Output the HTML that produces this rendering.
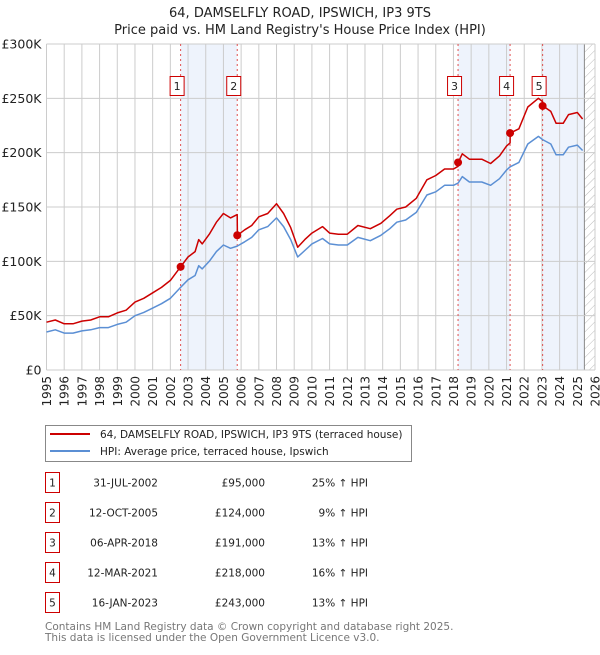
<!DOCTYPE html>
<html><head><meta charset="utf-8"><style>
body{margin:0;background:#fff;font-family:"Liberation Sans","DejaVu Sans",sans-serif;}
svg text{font-family:"DejaVu Sans","Liberation Sans",sans-serif;}
</style></head><body>
<svg id="c" width="600" height="650" xmlns="http://www.w3.org/2000/svg">
<defs><pattern id="hatch" width="6" height="6" patternUnits="userSpaceOnUse" patternTransform="rotate(45)"><line x1="0" y1="0" x2="0" y2="6" stroke="#bbb" stroke-width="1"/></pattern></defs>
<text x="300" y="17" text-anchor="middle" font-size="13" fill="#222">64, DAMSELFLY ROAD, IPSWICH, IP3 9TS</text>
<text x="300" y="34" text-anchor="middle" font-size="13" fill="#222">Price paid vs. HM Land Registry's House Price Index (HPI)</text>
<g id="plot"></g>
<g id="legend">
<rect x="45.5" y="425.5" width="366" height="36" fill="#fff" stroke="#888"/>
<line x1="50" y1="434" x2="90" y2="434" stroke="#cc0000" stroke-width="2"/>
<text x="100" y="438" font-size="10.5" fill="#222">64, DAMSELFLY ROAD, IPSWICH, IP3 9TS (terraced house)</text>
<line x1="50" y1="451" x2="90" y2="451" stroke="#5b8fd4" stroke-width="2"/>
<text x="100" y="455" font-size="10.5" fill="#222">HPI: Average price, terraced house, Ipswich</text>
</g>
<g id="table"></g>
<text x="45" y="630" font-size="10.5" fill="#777">Contains HM Land Registry data © Crown copyright and database right 2025.</text>
<text x="45" y="641" font-size="10.5" fill="#777">This data is licensed under the Open Government Licence v3.0.</text>
</svg>
<script>
const hpiDates=[1995.0,1995.5,1996.0,1996.5,1997.0,1997.5,1998.0,1998.5,1999.0,1999.5,2000.0,2000.5,2001.0,2001.5,2002.0,2002.58,2003.0,2003.4,2003.6,2003.8,2004.2,2004.6,2005.0,2005.4,2005.78,2006.2,2006.6,2007.0,2007.5,2008.0,2008.4,2008.8,2009.2,2009.6,2010.0,2010.6,2011.0,2011.5,2012.0,2012.6,2013.3,2013.9,2014.4,2014.8,2015.3,2015.9,2016.5,2017.0,2017.5,2018.0,2018.26,2018.5,2018.9,2019.6,2020.1,2020.6,2021.0,2021.2,2021.7,2022.2,2022.8,2023.04,2023.5,2023.8,2024.2,2024.5,2025.0,2025.3];
const hpiValues=[35,37,34,34,36,37,39,39,42,44,50,53,57,61,66,76,83,87,96,93,100,109,115,112,114,118,122,129,132,140,132,120,104,110,116,121,116,115,115,122,119,124,130,136,138,145,161,164,170,170,172,178,173,173,170,176,184,187,191,208,215,212,208,198,198,205,207,202];
const priceDates=[1995.0,1995.5,1996.0,1996.5,1997.0,1997.5,1998.0,1998.5,1999.0,1999.5,2000.0,2000.5,2001.0,2001.5,2002.0,2002.58,2003.0,2003.4,2003.6,2003.8,2004.2,2004.6,2005.0,2005.4,2005.78,2005.79,2006.2,2006.6,2007.0,2007.5,2008.0,2008.4,2008.8,2009.2,2009.6,2010.0,2010.6,2011.0,2011.5,2012.0,2012.6,2013.3,2013.9,2014.4,2014.8,2015.3,2015.9,2016.5,2017.0,2017.5,2018.0,2018.26,2018.27,2018.5,2018.9,2019.6,2020.1,2020.6,2021.0,2021.2,2021.21,2021.7,2022.2,2022.8,2023.04,2023.05,2023.5,2023.8,2024.2,2024.5,2025.0,2025.3];
const priceValues=[44,46,42.5,42.5,45,46,49,49,52.5,55,62.5,66,71,76,82.5,95,104,109,120,116,125,136,144,140,143,124,129,133,141,144,153,144,131,113,120,126,132,126,125,125,133,130,135,142,148,150,158,175,179,185,185,187.5,191,199,194,194,190,197,206,209,218,222,242,250,247,243,238,227,227,235,237,231];
const saleDates=[2002.58,2005.78,2018.26,2021.2,2023.04];
const saleValues=[95,124,191,218,243];
const saleLabels=["31-JUL-2002","12-OCT-2005","06-APR-2018","12-MAR-2021","16-JAN-2023"];
const salePrices=["£95,000","£124,000","£191,000","£218,000","£243,000"];
const saleHpi=["25% ↑ HPI","9% ↑ HPI","13% ↑ HPI","16% ↑ HPI","13% ↑ HPI"];
const yTicks=[0,50,100,150,200,250,300];
const yTickLabels=["£0","£50K","£100K","£150K","£200K","£250K","£300K"];
const xYears=[1995,1996,1997,1998,1999,2000,2001,2002,2003,2004,2005,2006,2007,2008,2009,2010,2011,2012,2013,2014,2015,2016,2017,2018,2019,2020,2021,2022,2023,2024,2025,2026];
const dataEnd=2025.4;

const NS="http://www.w3.org/2000/svg";
const X0=46.5,X1=595,Y0=370,Y1=44;
const xs=y=>X0+(y-1995)/(2026-1995)*(X1-X0);
const ys=v=>Y0-v/300*(Y0-Y1);
const plot=document.getElementById('plot');
function mk(tag,attrs,parent){const e=document.createElementNS(NS,tag);for(const k in attrs)e.setAttribute(k,attrs[k]);(parent||plot).appendChild(e);return e;}
[[0,1],[2,3]].forEach(p=>{const r=mk('rect',{x:xs(saleDates[p[0]]),y:Y1,width:xs(saleDates[p[1]])-xs(saleDates[p[0]]),height:Y0-Y1,fill:'#eef3fc'});

});
const r5=mk('rect',{x:xs(saleDates[4]),y:Y1,width:xs(dataEnd)-xs(saleDates[4]),height:Y0-Y1,fill:'#eef3fc'});


const hr=mk('rect',{x:xs(dataEnd),y:Y1,width:X1-xs(dataEnd),height:Y0-Y1,fill:'url(#hatch)'});


mk('line',{x1:xs(dataEnd),x2:xs(dataEnd),y1:Y1,y2:Y0,stroke:'#888','stroke-width':1});
xYears.forEach((yr,i)=>{mk('line',{x1:xs(yr),x2:xs(yr),y1:Y1,y2:Y0,stroke:'#ccc','stroke-width':1});
const t=mk('text',{x:0,y:0,'font-size':12,fill:'#222','text-anchor':'end',transform:`translate(${xs(yr)+4.5},${Y0+6}) rotate(-90)`});t.textContent=yr;

});
yTicks.forEach((v,i)=>{mk('line',{x1:X0,x2:X1,y1:ys(v),y2:ys(v),stroke:'#ccc','stroke-width':1});
const t=mk('text',{x:X0-5,y:ys(v)+4.5,'font-size':12.5,fill:'#222','text-anchor':'end'});t.textContent=yTickLabels[i];

});
saleDates.forEach((d,i)=>{mk('line',{x1:xs(d),x2:xs(d),y1:Y1,y2:Y0,stroke:'#e05050','stroke-width':1,'stroke-dasharray':'2,3'});
const g=mk('g',{});


mk('rect',{x:xs(d)-10.5,y:76.5,width:14,height:19,fill:'#fff',stroke:'#cc0000'},g);
const t=mk('text',{x:xs(d)-3.5,y:90,'font-size':11,'text-anchor':'middle',fill:'#222'},g);t.textContent=i+1;});
function path(dx,dv){return dx.map((d,i)=>(i?'L':'M')+xs(d).toFixed(1)+','+ys(dv[i]).toFixed(1)).join('');}
const hp=mk('path',{d:path(hpiDates,hpiValues),fill:'none',stroke:'#5b8fd4','stroke-width':1.5,'stroke-linejoin':'round'});


const pp=mk('path',{d:path(priceDates,priceValues),fill:'none',stroke:'#cc0000','stroke-width':1.5,'stroke-linejoin':'round'});


saleDates.forEach((d,i)=>{const c=mk('circle',{cx:xs(d),cy:ys(saleValues[i]),r:4,fill:'#cc0000'});

});
const tb=document.getElementById('table');
saleDates.forEach((d,i)=>{const y=483+i*30;
const g=mk('g',{},tb);


mk('rect',{x:45.5,y:y-10.5,width:14,height:20,fill:'#fff',stroke:'#cc0000'},g);
const n=mk('text',{x:52.5,y:y+3.5,'font-size':10.5,'text-anchor':'middle',fill:'#222'},g);n.textContent=i+1;
const a=mk('text',{x:158,y:y+3.5,'font-size':10.5,'text-anchor':'end',fill:'#222'},g);a.textContent=saleLabels[i];
const b=mk('text',{x:265,y:y+3.5,'font-size':10.5,'text-anchor':'end',fill:'#222'},g);b.textContent=salePrices[i];
const c=mk('text',{x:368,y:y+3.5,'font-size':10.5,'text-anchor':'end',fill:'#222'},g);c.textContent=saleHpi[i];});
</script>
</body></html>
